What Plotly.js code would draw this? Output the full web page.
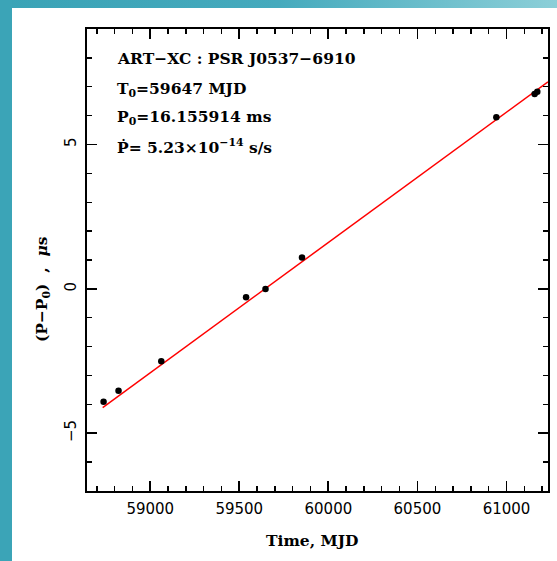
<!DOCTYPE html>
<html>
<head>
<meta charset="utf-8">
<script src="https://cdn.plot.ly/plotly-3.0.1.min.js"></script>
<style>
  html, body { margin: 0; padding: 0; width: 557px; height: 561px; overflow: hidden; }
  body { background: linear-gradient(90deg, #3aa3b6 0%, #45aabd 50%, #8ccfd8 100%); position: relative; }
  #leftstrip { position: absolute; left: 0; top: 0; width: 12px; height: 561px; background: #3ba4b7; }
  #chart { position: absolute; left: 12px; top: 8px; width: 545px; height: 553px; background: #fff; }
</style>
</head>
<body>
<div id="leftstrip"></div>
<div id="chart"></div>
<script>
// Observed points: time (MJD) and period offset (microseconds)
const timeMJD = [58738, 58822, 59062, 59538, 59647, 59852, 60943, 61158, 61173];
const dP = [-3.91, -3.53, -2.51, -0.29, 0.0, 1.09, 5.94, 6.75, 6.83];
// Linear fit end points
const fitX = [58733, 61233];
const fitY = [-4.11, 7.17];
// Annotation text lines
const infoLines = [
  'ART\u2212XC : PSR J0537\u22126910',
  'T<sub>0</sub>=59647 MJD',
  'P<sub>0</sub>=16.155914 ms',
  '\u1E56= 5.23\u00D710<sup>\u221214</sup> s/s'
];
const xTitle = 'Time, MJD';
const yTitle = '(P\u2212P<sub>0</sub>)\u00A0\u00A0,\u00A0\u00A0<i>\u03BC</i>s';

const serif = 'DejaVu Serif';
const sans = 'DejaVu Sans';
const txtFont = { family: serif, size: 15.5, color: '#000', weight: 'bold' };

const traces = [
  { x: fitX, y: fitY, mode: 'lines', line: { color: '#ff0000', width: 1.5 }, hoverinfo: 'skip' },
  { x: timeMJD, y: dP, mode: 'markers', marker: { color: '#000', size: 6.5 } },
  { x: [], y: [], xaxis: 'x2', yaxis: 'y2', mode: 'markers', showlegend: false }
];

const lineYs = [0.9366, 0.8697, 0.8084, 0.7457];
const annotations = infoLines.map((t, i) => ({
  text: t, xref: 'paper', yref: 'paper', x: 0.0607, y: lineYs[i],
  xanchor: 'left', yanchor: 'middle', showarrow: false, font: txtFont
}));
annotations.push({
  text: yTitle, xref: 'paper', yref: 'paper', x: -0.0976, y: 0.437,
  xanchor: 'center', yanchor: 'middle', textangle: -90, showarrow: false, font: txtFont
});
annotations.push({
  text: xTitle, xref: 'paper', yref: 'paper', x: 0.488, y: -0.108,
  xanchor: 'center', yanchor: 'middle', showarrow: false, font: txtFont
});

const tickCommon = {
  ticks: 'inside', ticklen: 10, tickwidth: 1.8, tickcolor: '#000',
  showgrid: false, zeroline: false,
  tickfont: { family: sans, size: 15, color: '#000' }
};
const xMinor = { ticks: 'inside', ticklen: 5, tickwidth: 1.4, tickcolor: '#000', dtick: 100, tick0: 0, showgrid: false };
const yMinor = { ticks: 'inside', ticklen: 5, tickwidth: 1.4, tickcolor: '#000', dtick: 1, tick0: 0, showgrid: false };
const xRange = [58645, 61233];
const yRange = [-7, 9];

const layout = {
  width: 545, height: 553,
  margin: { l: 75, r: 9, t: 21, b: 70 },
  paper_bgcolor: '#fff', plot_bgcolor: '#fff',
  showlegend: false,
  xaxis: Object.assign({}, tickCommon, {
    showline: true, linecolor: '#000', linewidth: 1.6, mirror: 'allticks',
    range: xRange, tick0: 0, dtick: 500, tickformat: 'd', ticklabelstandoff: 3,
    minor: xMinor
  }),
  yaxis: Object.assign({}, tickCommon, {
    showline: true, linecolor: '#000', linewidth: 1.6, mirror: 'allticks',
    range: yRange, tick0: 0, dtick: 5, tickangle: -90, ticklabelstandoff: 3,
    minor: yMinor
  }),
  xaxis2: Object.assign({}, tickCommon, {
    overlaying: 'x', side: 'top', anchor: 'y2', range: xRange, tick0: 0, dtick: 500,
    showticklabels: false, showline: false, minor: xMinor
  }),
  yaxis2: Object.assign({}, tickCommon, {
    overlaying: 'y', side: 'right', anchor: 'x2', range: yRange, tick0: 0, dtick: 5,
    showticklabels: false, showline: false, minor: yMinor
  }),
  annotations: annotations
};

Plotly.newPlot('chart', traces, layout, { staticPlot: true, displayModeBar: false });
</script>
</body>
</html>
